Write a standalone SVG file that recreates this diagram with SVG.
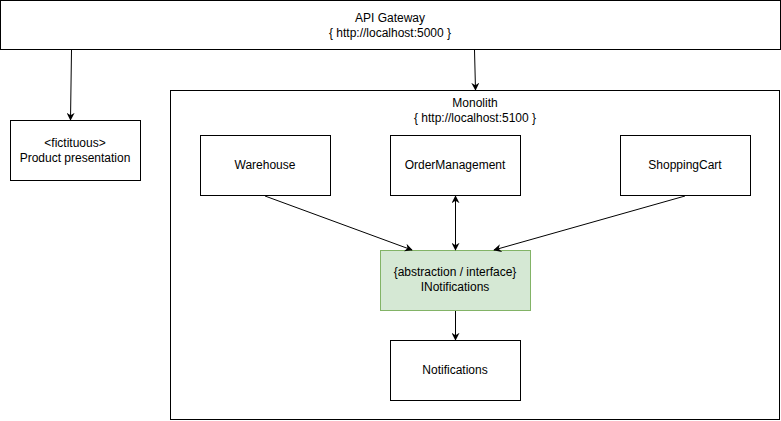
<svg xmlns="http://www.w3.org/2000/svg" width="781" height="421" viewBox="0 0 781 421">
<defs>
<marker id="arr" viewBox="0 0 10 10" refX="9" refY="5" markerWidth="8" markerHeight="8" markerUnits="userSpaceOnUse" orient="auto-start-reverse">
<path d="M0,0 L10,5 L0,10 L3,5 Z" fill="#000"/>
</marker>
<style>
.box{fill:#fff;stroke:#000;stroke-width:1}
.green{fill:#d5e8d4;stroke:#82b366;stroke-width:1}
text{font-family:"Liberation Sans",Arial,sans-serif;font-size:12px;fill:#000;text-anchor:middle}
.edge{stroke:#000;stroke-width:1;fill:none}
</style>
</defs>
<rect width="781" height="421" fill="#fff"/>
<g id="api-gateway">
<rect class="box" x="0.5" y="0.5" width="780" height="49"/>
<text x="390" y="22">API Gateway</text>
<text x="390" y="37">{ http://localhost:5000 }</text>
</g>
<g id="product-presentation">
<rect class="box" x="10.5" y="120.5" width="130" height="60"/>
<text x="75" y="147">&lt;fictituous&gt;</text>
<text x="75" y="162">Product presentation</text>
</g>
<g id="monolith">
<rect class="box" x="170.5" y="90.5" width="609" height="329"/>
<text x="475" y="107">Monolith</text>
<text x="475" y="122">{ http://localhost:5100 }</text>
</g>
<g id="warehouse">
<rect class="box" x="200.5" y="135.5" width="130" height="60"/>
<text x="265" y="169">Warehouse</text>
</g>
<g id="order-management">
<rect class="box" x="390.5" y="135.5" width="130" height="60"/>
<text x="455" y="169">OrderManagement</text>
</g>
<g id="shopping-cart">
<rect class="box" x="620.5" y="135.5" width="130" height="60"/>
<text x="685" y="169">ShoppingCart</text>
</g>
<g id="inotifications">
<rect class="green" x="380.5" y="250.5" width="150" height="60"/>
<text x="455" y="276">{abstraction / interface}</text>
<text x="455" y="291">INotifications</text>
</g>
<g id="notifications">
<rect class="box" x="390.5" y="340.5" width="130" height="60"/>
<text x="455" y="374">Notifications</text>
</g>
<g id="connectors">
<line class="edge" x1="71.5" y1="50" x2="70.5" y2="120" marker-end="url(#arr)"/>
<line class="edge" x1="474.5" y1="50" x2="475.5" y2="90" marker-end="url(#arr)"/>
<line class="edge" x1="265" y1="196" x2="412" y2="250" marker-end="url(#arr)"/>
<line class="edge" x1="685" y1="196" x2="494" y2="250" marker-end="url(#arr)"/>
<line class="edge" x1="455.5" y1="196" x2="455.5" y2="250" marker-start="url(#arr)" marker-end="url(#arr)"/>
<line class="edge" x1="455.5" y1="311" x2="455.5" y2="340" marker-end="url(#arr)"/>
</g>
</svg>
